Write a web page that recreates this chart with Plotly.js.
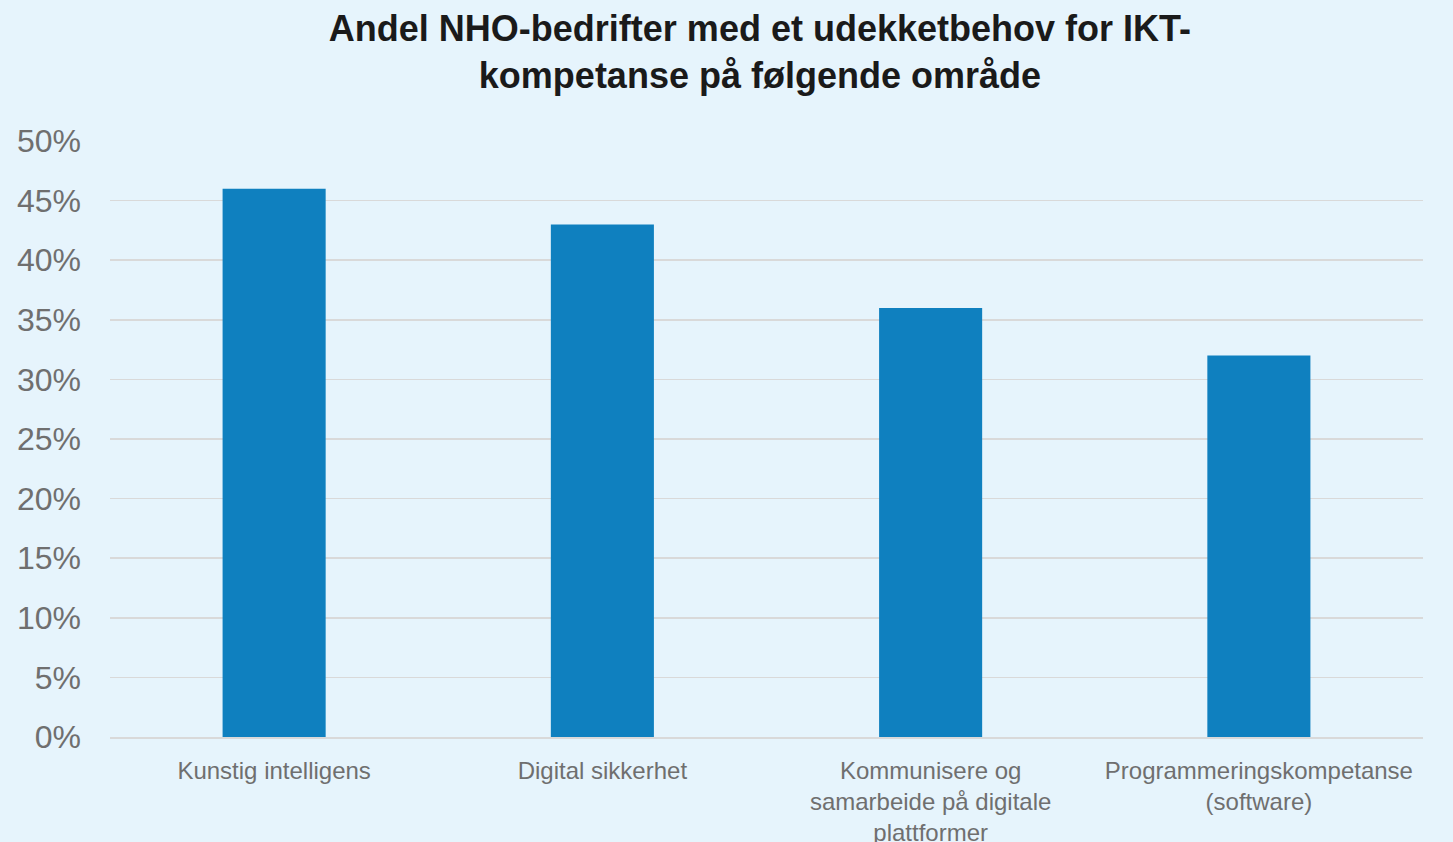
<!DOCTYPE html>
<html>
<head>
<meta charset="utf-8">
<script src="https://cdn.plot.ly/plotly-3.0.1.min.js"></script>
<style>
html,body{margin:0;padding:0;background:#E6F4FC;}
#chart{width:1453px;height:842px;}
</style>
</head>
<body>
<div id="chart"></div>
<script>
const categories = [
  "Kunstig intelligens",
  "Digital sikkerhet",
  "Kommunisere og<br>samarbeide på digitale<br>plattformer",
  "Programmeringskompetanse<br>(software)"
];
const values = [46, 43, 36, 32];
const yTickVals = [0, 5, 10, 15, 20, 25, 30, 35, 40, 45, 50];
const yTickText = ["0%", "5%", "10%", "15%", "20%", "25%", "30%", "35%", "40%", "45%", "50%"];
const titleText = "Andel NHO-bedrifter med et udekketbehov for IKT-<br>kompetanse på følgende område";

const data = [{
  type: "bar",
  x: categories,
  y: values,
  marker: {color: "#0F80BF"},
  hoverinfo: "none"
}];

const layout = {
  width: 1453,
  height: 842,
  paper_bgcolor: "#E6F4FC",
  plot_bgcolor: "#E6F4FC",
  margin: {l: 110, r: 30, t: 141, b: 105},
  bargap: 0.686,
  showlegend: false,
  font: {family: "Liberation Sans, Arial, sans-serif", color: "#6F6F6F"},
  title: {
    text: titleText,
    font: {family: "Liberation Sans, Arial, sans-serif", size: 36, color: "#1A1A1A", weight: "bold"},
    x: 0.523,
    xanchor: "center",
    yref: "container",
    y: 0.951,
    yanchor: "middle"
  },
  xaxis: {
    type: "category",
    tickfont: {size: 24, color: "#6F6F6F"},
    showgrid: false,
    showline: true,
    linecolor: "#D9D9D9",
    linewidth: 2,
    ticks: "",
    ticklabelstandoff: 11,
    automargin: false
  },
  yaxis: {
    range: [0, 50],
    tickvals: yTickVals,
    ticktext: yTickText,
    tickfont: {size: 32, color: "#6F6F6F"},
    showgrid: true,
    gridcolor: "#D9D9D9",
    gridwidth: 1.5,
    zeroline: false,
    showline: false,
    ticks: "",
    ticklabelstandoff: 28,
    automargin: false
  }
};

Plotly.newPlot("chart", data, layout, {displayModeBar: false, staticPlot: true});
</script>
</body>
</html>
